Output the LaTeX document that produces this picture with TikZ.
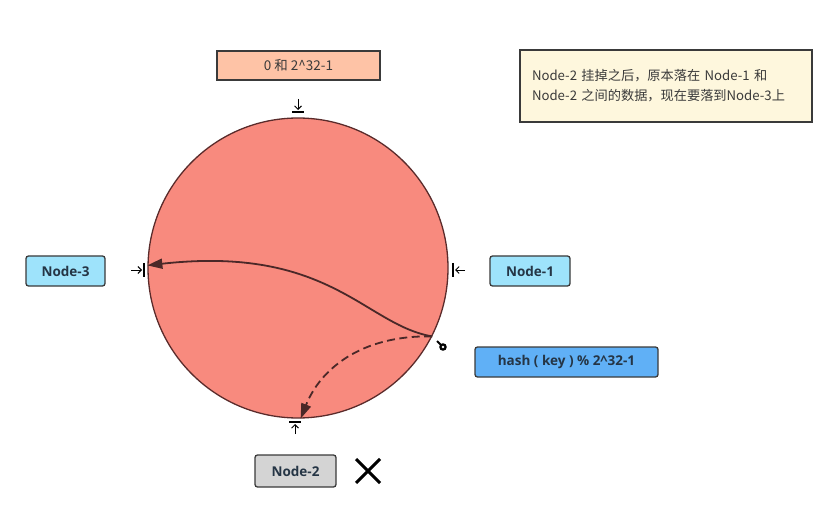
\documentclass[tikz,border=0pt]{standalone}
\usepackage{fontspec}
\setmainfont{Open Sans}
\newfontfamily\cjk{Noto Sans CJK SC}
\usepackage{tikz}
\usetikzlibrary{positioning}
\usetikzlibrary{arrows.meta}
\usepackage{xcolor}
\definecolor{ringred}{HTML}{F88A7E}
\definecolor{ringline}{HTML}{5A2B2B}
\definecolor{peach}{HTML}{FEC3A6}
\definecolor{cream}{HTML}{FEF7DD}
\definecolor{skyblue}{HTML}{9EE3FB}
\definecolor{hashblue}{HTML}{60B0F6}
\definecolor{downgray}{HTML}{D4D4D4}
\definecolor{boxline}{HTML}{3A3A3A}
\definecolor{labeltext}{HTML}{253545}
\definecolor{curveline}{HTML}{4A2828}

\begin{document}
\begin{tikzpicture}[x=1pt,y=-1pt,
  nodebox/.style={draw=boxline,line width=1.3pt,rounded corners=2.5pt,
    font=\bfseries\fontsize{13.5}{15}\selectfont,text=labeltext,
    minimum height=30pt,inner sep=0pt},
  flatbox/.style={draw=boxline,line width=1.3pt,inner sep=0pt,text=boxline},
  tick/.style={line width=0.9pt,-{Straight Barb[length=3.5pt,width=7pt]}},
  bar/.style={line width=1.1pt},
  hashpath/.style={curveline,line width=1.8pt,-{Triangle[length=15pt,width=10pt]}}]
\useasboundingbox (0,0) rectangle (839,532);

\node[circle,draw=ringline,fill=ringred,line width=1.3pt,minimum size=300pt,inner sep=0pt] (ring) at (298,268) {};

\node[flatbox,fill=peach,minimum width=163pt,minimum height=29pt,font=\cjk\fontsize{13.5}{15}\selectfont] (range) at (298.5,65.5) {0 和 2\textasciicircum 32-1};
\node[flatbox,fill=cream,minimum width=292pt,minimum height=72pt,text width=268pt,align=left,font=\cjk\fontsize{13.2}{20}\selectfont] (note) at (666,86) {Node-2 挂掉之后，原本落在 Node-1 和\\Node-2 之间的数据，现在要落到Node-3上};

\node[nodebox,fill=skyblue,minimum width=79pt] (node3) at (65.5,271) {Node-3};
\node[nodebox,fill=skyblue,minimum width=80pt] (node1) at (530,271) {Node-1};
\node[nodebox,fill=hashblue,minimum width=183pt] (hash) at (566.5,362) {hash ( key ) \% 2\textasciicircum 32-1};
\node[nodebox,fill=downgray,minimum width=81pt,minimum height=32pt] (node2) at (295.5,471) {Node-2};

% marks round the ring
\draw[tick] (298,99) -- (298,110);
\draw[bar] (292,112) -- (304,112);
\draw[tick] (131,270) -- (142,270);
\draw[bar] (144,263) -- (144,277);
\draw[tick] (465,270) -- (455,270);
\draw[bar] (453,263) -- (453,277);
\draw[tick] (295,434) -- (295,424);
\draw[bar] (289,422) -- (301,422);

% key falls on the ring
\coordinate (key) at (ring.-27);
\coordinate (pin) at (443,347);
\draw[line width=1.8pt] (pin) -- ++(-6,-6);
\fill (pin) circle(3.8pt);
\fill[white] (pin) circle(1.4pt);

\draw[hashpath] (key) .. controls (365,325) and (330,245) .. (ring.179);
\draw[hashpath,dashed,dash pattern=on 8pt off 4.5pt] (key) .. controls (360,335) and (320,370) .. (ring.-89);

% node 2 is down
\draw[line width=3pt] (356,459) -- (380,483);
\draw[line width=3pt] (380,459) -- (356,483);

\end{tikzpicture}
\end{document}
